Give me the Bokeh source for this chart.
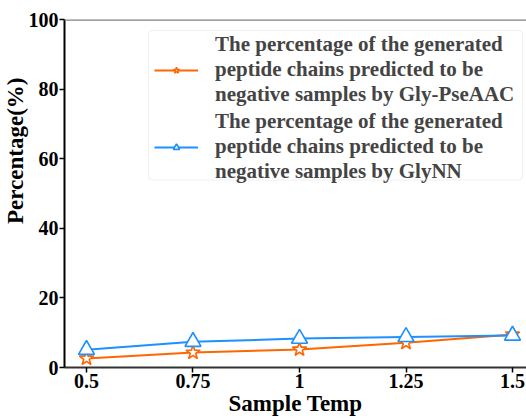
from bokeh.plotting import figure
from bokeh.models import FixedTicker, Span, Title, Legend, LegendItem, BoxAnnotation
from bokeh.embed import file_html
from bokeh.resources import INLINE

temps = [0.5, 0.75, 1.0, 1.25, 1.5]
temp_labels = ["0.5", "0.75", "1", "1.25", "1.5"]
gly_pseaac = [2.6, 4.3, 5.2, 7.1, 9.5]
glynn = [5.1, 7.4, 8.3, 8.8, 9.2]
y_ticks = [0, 20, 40, 60, 80, 100]

label_a = ["The percentage of the generated", "peptide chains predicted to be",
           "negative samples by Gly-PseAAC"]
label_b = ["The percentage of the generated", "peptide chains predicted to be",
           "negative samples by GlyNN"]
x_title = "Sample Temp"
y_title = "Percentage(%)"

FONT = "Liberation Serif"
ORANGE = "#ff6600"
BLUE = "#1e90ff"
X_START, X_END = 0.44836, 1.53286
PX_PER_X = 426.0       # pixels per x unit
PX_PER_Y = 3.49        # pixels per y unit

p = figure(width=526, height=418, output_backend="svg", toolbar_location=None,
           x_range=(X_START, X_END), y_range=(0, 100),
           min_border_left=64, min_border_top=19, min_border_right=0, min_border_bottom=50)
p.outline_line_color = None
p.grid.visible = False
p.background_fill_color = "white"

# legend frame (drawn first, behind legends)
box = BoxAnnotation(left=X_START + 84 / PX_PER_X, right=X_START + 458 / PX_PER_X,
                    top=100 - 11 / PX_PER_Y, bottom=100 - 161 / PX_PER_Y,
                    fill_color="white", fill_alpha=0.85, line_color="#cccccc",
                    line_width=1, border_radius=4, level="overlay")
p.add_layout(box)

la = p.line(temps, gly_pseaac, line_color=ORANGE, line_width=2)
sa = p.scatter(temps, gly_pseaac, marker="star", size=15, line_color=ORANGE, line_width=1.6,
               fill_color="white")
lb = p.line(temps, glynn, line_color=BLUE, line_width=2)
sb = p.scatter(temps, glynn, marker="triangle", size=16, line_color=BLUE, line_width=1.6,
               fill_color="white")
dummy = p.scatter([], [], alpha=0)

top = Span(location=100, dimension="width", line_color="#808080", line_width=2.5)
p.add_layout(top)

p.xaxis.ticker = FixedTicker(ticks=temps)
p.xaxis.major_label_overrides = {t: l for t, l in zip(temps, temp_labels)}
p.yaxis.ticker = FixedTicker(ticks=y_ticks)
for ax in (p.xaxis[0], p.yaxis[0]):
    ax.minor_tick_line_color = None
    ax.major_tick_in = 0
    ax.major_tick_out = 5
    ax.major_tick_line_width = 1.5
    ax.major_label_text_font = FONT
    ax.major_label_text_font_style = "bold"
    ax.major_label_text_font_size = "20px"
    ax.major_label_text_color = "black"
    ax.axis_label_text_font = FONT
    ax.axis_label_text_font_style = "bold"
    ax.axis_label_text_font_size = "23px"
    ax.axis_label_text_color = "black"
    ax.axis_line_width = 2
    ax.major_label_standoff = 1
p.xaxis.axis_line_color = "#333333"
p.yaxis.axis_line_color = "black"
p.xaxis.axis_label = x_title
p.xaxis.axis_label_standoff = 0

ytitle = Title(text=y_title, align="right", offset=58, vertical_align="bottom",
               standoff=-4, text_font=FONT, text_font_style="bold",
               text_font_size="23px", text_color="black")
p.add_layout(ytitle, "left")


def make_legend(labels, renderers, loc):
    items = [LegendItem(label=labels[0], renderers=[dummy]),
             LegendItem(label=labels[1], renderers=renderers),
             LegendItem(label=labels[2], renderers=[dummy])]
    leg = Legend(items=items, location=loc)
    leg.label_text_font = FONT
    leg.label_text_font_style = "bold"
    leg.label_text_font_size = "21px"
    leg.label_text_line_height = 0.8
    leg.border_line_color = None
    leg.background_fill_alpha = 0
    leg.glyph_width = 44
    leg.glyph_height = 16
    leg.label_height = 16
    leg.label_standoff = 17
    leg.padding = 0
    leg.spacing = 0
    leg.margin = 0
    leg.level = "overlay"
    p.add_layout(leg)


make_legend(label_a, [la, sa], (90, 260))
make_legend(label_b, [lb, sb], (90, 183))

open("out.html", "w").write(file_html(p, INLINE))
